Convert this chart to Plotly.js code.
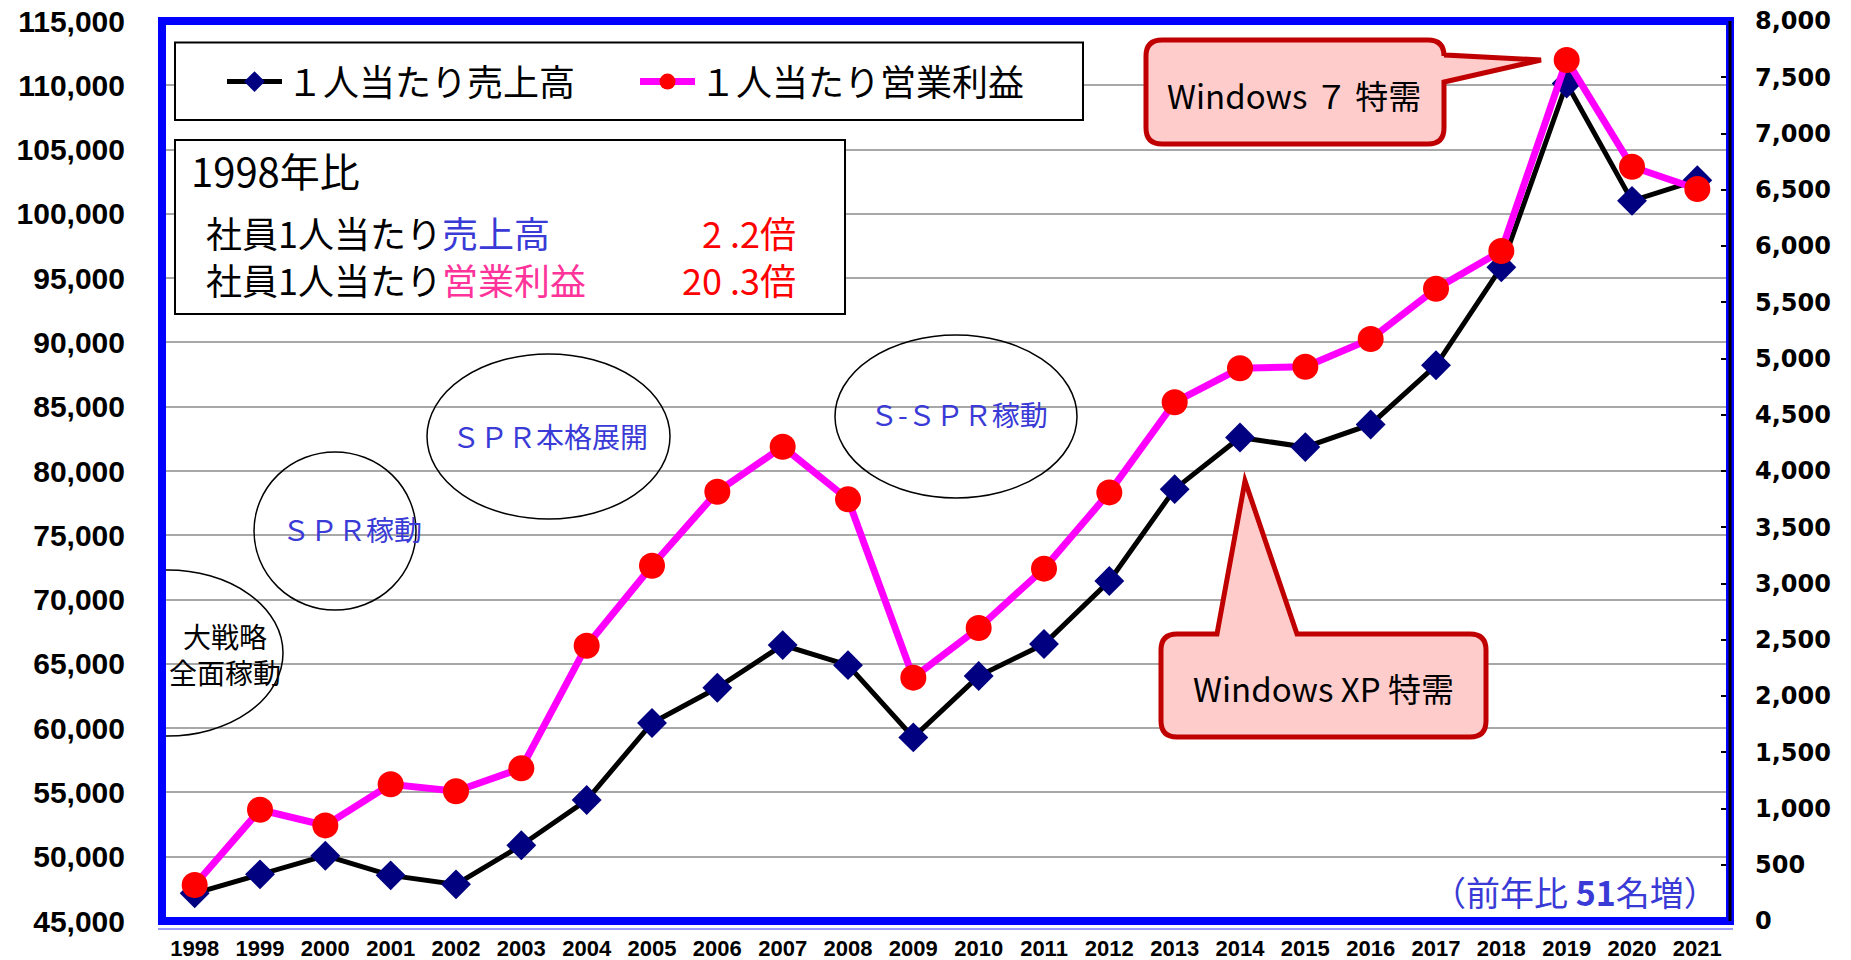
<!DOCTYPE html>
<html>
<head>
<meta charset="utf-8">
<script src="https://cdn.plot.ly/plotly-3.0.1.min.js"></script>
<style>
  html, body { margin: 0; padding: 0; background: #ffffff; }
  #chart { width: 1851px; height: 960px; }
</style>
</head>
<body>
<div id="chart"></div>
<script>
// ---------------- data ----------------
const years = ['1998','1999','2000','2001','2002','2003','2004','2005','2006','2007','2008','2009',
               '2010','2011','2012','2013','2014','2015','2016','2017','2018','2019','2020','2021'];
// 1人当たり売上高 (left axis)
const salesPerEmployee = [47150, 48630, 50080, 48550, 47850, 50890, 54410, 60400, 63140, 66460, 64900, 59280,
                          64050, 66540, 71440, 78590, 82610, 81860, 83620, 88220, 95850, 110140, 101010, 102620];
// 1人当たり営業利益 (right axis)
const profitPerEmployee = [320, 989, 850, 1215, 1153, 1357, 2447, 3158, 3816, 4216, 3748, 2163,
                           2604, 3132, 3810, 4611, 4913, 4927, 5173, 5620, 5956, 7653, 6705, 6507];
const seriesNames = ['１人当たり売上高', '１人当たり営業利益'];
const leftRange = [45000, 115000];
const rightRange = [0, 8000];

// ---------------- geometry helpers (pixel -> paper / data) ----------------
const L = 162, R = 1730, T = 21, B = 921;
const px = x => (x - L) / (R - L);
const py = y => 1 - (y - T) / (B - T);
const xd = x => (x - L) / ((R - L) / years.length) - 0.5;
const yd = y => leftRange[0] + (B - y) / (B - T) * (leftRange[1] - leftRange[0]);
const P = (x, y) => px(x).toFixed(5) + ',' + py(y).toFixed(5);

const JP = '"Noto Sans CJK JP", "Noto Sans", sans-serif';
const BLUE_TXT = '#3A3AD6';

function calloutRight(x0, y0, x1, y1, r, ta, tip, tb) {
  return 'M' + P(x0 + r, y0) + ' L' + P(x1 - r, y0) + ' Q' + P(x1, y0) + ' ' + P(x1, y0 + r) +
         ' L' + P(x1, ta) + ' L' + P(tip[0], tip[1]) + ' L' + P(x1, tb) +
         ' L' + P(x1, y1 - r) + ' Q' + P(x1, y1) + ' ' + P(x1 - r, y1) +
         ' L' + P(x0 + r, y1) + ' Q' + P(x0, y1) + ' ' + P(x0, y1 - r) +
         ' L' + P(x0, y0 + r) + ' Q' + P(x0, y0) + ' ' + P(x0 + r, y0) + ' Z';
}
function calloutTop(x0, y0, x1, y1, r, ta, tip, tb) {
  return 'M' + P(x0 + r, y0) + ' L' + P(ta, y0) + ' L' + P(tip[0], tip[1]) + ' L' + P(tb, y0) +
         ' L' + P(x1 - r, y0) + ' Q' + P(x1, y0) + ' ' + P(x1, y0 + r) +
         ' L' + P(x1, y1 - r) + ' Q' + P(x1, y1) + ' ' + P(x1 - r, y1) +
         ' L' + P(x0 + r, y1) + ' Q' + P(x0, y1) + ' ' + P(x0, y1 - r) +
         ' L' + P(x0, y0 + r) + ' Q' + P(x0, y0) + ' ' + P(x0 + r, y0) + ' Z';
}

// ---------------- traces ----------------
const traces = [
  {
    type: 'scatter', mode: 'lines+markers', name: seriesNames[0],
    x: years, y: salesPerEmployee, yaxis: 'y',
    line: { color: '#000000', width: 5 },
    marker: { symbol: 'diamond', size: 23, color: '#000080' },
    cliponaxis: false
  },
  {
    type: 'scatter', mode: 'lines+markers', name: seriesNames[1],
    x: years, y: profitPerEmployee, yaxis: 'y2',
    line: { color: '#FF00FF', width: 7 },
    marker: { symbol: 'circle', size: 26, color: '#FF0000' },
    cliponaxis: false
  }
];

// ---------------- shapes ----------------
const shapes = [
  // legend box
  { type: 'rect', xref: 'paper', yref: 'paper', x0: px(175), x1: px(1083), y0: py(120), y1: py(42.5),
    line: { color: '#000000', width: 2 }, fillcolor: '#ffffff', layer: 'above' },
  // 1998年比 box
  { type: 'rect', xref: 'paper', yref: 'paper', x0: px(175), x1: px(845), y0: py(314), y1: py(140),
    line: { color: '#000000', width: 2 }, fillcolor: '#ffffff', layer: 'above' },
  // ellipses
  { type: 'circle', xref: 'x', yref: 'y', x0: xd(52), x1: xd(283), y0: yd(736), y1: yd(570),
    line: { color: '#000000', width: 1.5 }, layer: 'above' },
  { type: 'circle', xref: 'paper', yref: 'paper', x0: px(254), x1: px(416), y0: py(610), y1: py(452),
    line: { color: '#000000', width: 1.5 }, layer: 'above' },
  { type: 'circle', xref: 'paper', yref: 'paper', x0: px(427), x1: px(670), y0: py(519), y1: py(354),
    line: { color: '#000000', width: 1.5 }, layer: 'above' },
  { type: 'circle', xref: 'paper', yref: 'paper', x0: px(835), x1: px(1077), y0: py(498), y1: py(335),
    line: { color: '#000000', width: 1.5 }, layer: 'above' },
  // callouts
  { type: 'path', xref: 'paper', yref: 'paper',
    path: calloutRight(1146, 40, 1444, 144, 16, 55, [1541, 60], 82),
    line: { color: '#C00000', width: 5 }, fillcolor: '#FFCCCC', layer: 'above' },
  { type: 'path', xref: 'paper', yref: 'paper',
    path: calloutTop(1161, 634, 1486, 737, 16, 1217, [1245, 481], 1297),
    line: { color: '#C00000', width: 5 }, fillcolor: '#FFCCCC', layer: 'above' },
  // light line under frame
  { type: 'line', xref: 'paper', yref: 'paper', x0: px(158), x1: px(1733), y0: py(929), y1: py(929),
    line: { color: '#9C9CFF', width: 2 }, layer: 'above' },
  // blue frame
  { type: 'rect', xref: 'paper', yref: 'paper', x0: 0, x1: 1, y0: 0, y1: 1,
    line: { color: '#0000FF', width: 8 }, layer: 'above' },
  // black right axis line on top of frame
  { type: 'line', xref: 'paper', yref: 'paper', x0: 1, x1: 1, y0: 0, y1: 1,
    line: { color: '#000000', width: 3 }, layer: 'above' }
];

// ---------------- annotations ----------------
function txt(text, x, y, size, color, xanchor, extra) {
  return Object.assign({ text: text, xref: 'paper', yref: 'paper', x: px(x), y: py(y),
    xanchor: xanchor || 'center', yanchor: 'middle', showarrow: false, borderpad: 0,
    align: xanchor === 'right' ? 'right' : (xanchor === 'left' ? 'left' : 'center'),
    font: { family: JP, size: size, color: color } }, extra || {});
}
const annotations = [
  txt('1998年比', 190, 170, 40, '#000000', 'left'),
  txt('社員1人当たり<span style="color:#3A3AD6">売上高</span><br>社員1人当たり<span style="color:#FF3399">営業利益</span>',
      205, 256, 36, '#000000', 'left'),
  txt('2 .2倍<br>20 .3倍', 797, 256, 36, '#FF0000', 'right'),
  txt('大戦略<br>全面稼動', 225, 654, 28, '#000000', 'center'),
  txt('ＳＰＲ稼動', 352, 529, 28, BLUE_TXT, 'center'),
  txt('ＳＰＲ本格展開', 550, 436, 28, BLUE_TXT, 'center'),
  txt('Ｓ-ＳＰＲ稼動', 959, 414, 28, BLUE_TXT, 'center'),
  txt('Windows ７ 特需', 1294, 95, 33, '#000000', 'center'),
  txt('Windows XP 特需', 1323, 688, 33, '#000000', 'center'),
  txt('（前年比 <b>51</b>名増）', 1719, 891, 34, BLUE_TXT, 'right')
];

// ---------------- layout ----------------
const layout = {
  width: 1851, height: 960,
  margin: { l: L, r: 1851 - R, t: T, b: 960 - B, pad: 0 },
  paper_bgcolor: '#ffffff', plot_bgcolor: '#ffffff',
  showlegend: true,
  legend: {
    orientation: 'h', x: px(222), y: py(81.7), xanchor: 'left', yanchor: 'middle',
    bgcolor: 'rgba(0,0,0,0)', borderwidth: 0,
    font: { family: JP, size: 36, color: '#000000' },
    itemwidth: 55,
    entrywidth: 343, entrywidthmode: 'pixels', traceorder: 'normal'
  },
  xaxis: {
    type: 'category', range: [-0.5, years.length - 0.5],
    showgrid: false, zeroline: false, showline: false, ticks: '',
    tickfont: { family: '"Liberation Sans", Arial, sans-serif', size: 22, weight: 'bold', color: '#000000' },
    ticklabelstandoff: 12, fixedrange: true
  },
  yaxis: {
    range: leftRange, tick0: 45000, dtick: 5000, tickformat: ',d',
    showgrid: true, gridcolor: '#A8A8A8', gridwidth: 2,
    zeroline: false, showline: false, ticks: '',
    tickfont: { family: '"Liberation Sans", Arial, sans-serif', size: 30, weight: 'bold', color: '#000000' },
    ticklabelstandoff: 36, fixedrange: true
  },
  yaxis2: {
    overlaying: 'y', side: 'right', anchor: 'x',
    range: rightRange, tick0: 0, dtick: 500, tickformat: ',d',
    showgrid: false, zeroline: false,
    showline: false, ticks: 'inside', ticklen: 9, tickwidth: 2, tickcolor: '#000000',
    tickfont: { family: '"DejaVu Sans", sans-serif', size: 24, weight: 'bold', color: '#000000' },
    ticklabelstandoff: 24, fixedrange: true
  },
  shapes: shapes,
  annotations: annotations
};

Plotly.newPlot('chart', traces, layout, { displayModeBar: false, staticPlot: true });
</script>
</body>
</html>
